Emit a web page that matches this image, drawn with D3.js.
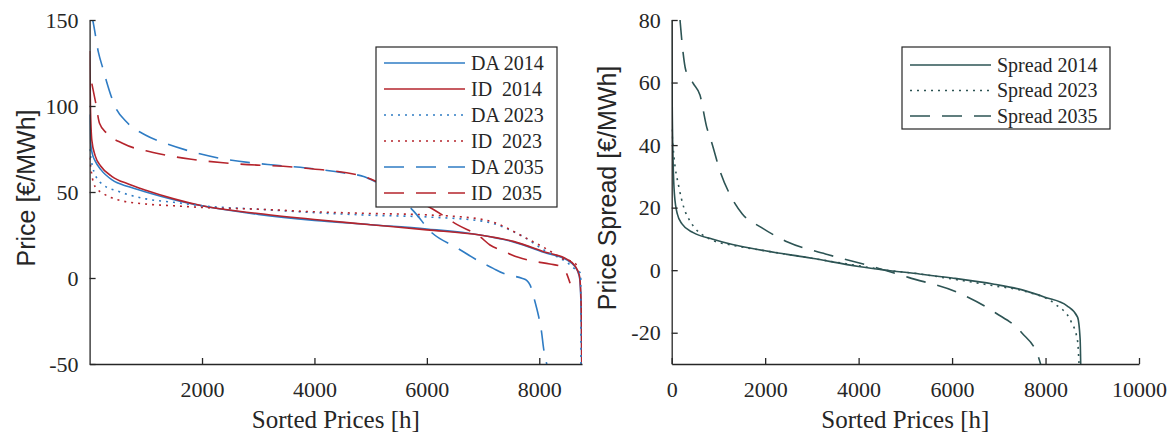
<!DOCTYPE html>
<html>
<head>
<meta charset="utf-8">
<script src="https://cdn.jsdelivr.net/npm/d3@7"></script>
<style>
  body { margin: 0; background: #fff; }
  text { fill: #262626; }
</style>
</head>
<body>
<svg id="chart" width="1172" height="434"></svg>
<script>
// price duration curves, [sorted hour, €/MWh]
var da2014 = [[0, 95], [20, 78], [50, 72], [100, 68], [200, 63], [400, 57], [700, 53], [1000, 50], [1500, 45.5],
    [2000, 42], [3000, 37], [4000, 33.5], [5000, 31], [6000, 28.5], [6945, 25], [7538, 21], [8132, 14.4],
    [8488, 10.5], [8636, 6.6], [8713, 0.8], [8737, -10], [8750, -30], [8755, -55]];
var id2014 = [[0, 132], [15, 100], [40, 80], [100, 71], [200, 65], [400, 59], [700, 54.5], [1000, 51], [1500, 46],
    [2000, 42], [3000, 37.5], [4000, 34], [5000, 31], [6000, 28], [6945, 25], [7538, 21.3], [8132, 14.8],
    [8488, 11], [8636, 7], [8713, 1.5], [8740, -10], [8752, -30], [8758, -55]];
var da2023 = [[0, 75], [50, 65], [100, 60], [250, 54], [500, 50.5], [1000, 46], [1500, 44], [2000, 42],
    [3000, 40], [4000, 38], [5000, 36.5], [6000, 35.5], [7000, 33], [7716, 24], [8132, 15.3], [8368, 11.5],
    [8516, 8.5], [8680, 4], [8737, 2.7], [8740, -20], [8742, -55]];
var id2023 = [[0, 70], [50, 58], [100, 53], [250, 49], [500, 45.5], [1000, 43], [1500, 42], [2000, 41],
    [3000, 40], [4000, 38.5], [5000, 37.5], [6000, 36.7], [7000, 34], [7835, 22], [8160, 16.3], [8396, 11.5],
    [8636, 8.5], [8700, 6]];
var da2035 = [[40, 152], [55, 150], [155, 131.5], [244, 121], [304, 114], [450, 100], [650, 91], [1000, 83],
    [1330, 78.5], [1810, 73.5], [2420, 69], [3170, 66], [3850, 64], [4530, 61], [4875, 59], [5080, 56],
    [5400, 50], [5760, 39], [6100, 26], [6510, 18], [6945, 9.5], [7180, 5.6], [7360, 2.7], [7690, -0.2],
    [7780, -1.5], [7835, -4], [7924, -13.8], [7983, -21.5], [8043, -32], [8073, -40], [8132, -50], [8150, -53]];
var id2035 = [[40, 113], [108, 102], [176, 90], [310, 84], [585, 78.3], [1130, 73], [1810, 69], [2490, 66.7],
    [3850, 63.8], [4875, 59], [5146, 55.5], [5760, 46], [6110, 40], [6540, 31], [6945, 24], [7123, 19.2],
    [7330, 16], [7626, 12], [7865, 10], [8190, 8.1], [8400, 6.6], [8480, 3], [8548, -3]];

// intraday minus day-ahead spread, [sorted hour, €/MWh]
var spread2014 = [[0, 80], [10, 55], [30, 35], [60, 24], [120, 18], [220, 14.8], [460, 12], [865, 10],
    [1300, 8.2], [2000, 6.2], [3000, 3.8], [4000, 1.2], [4600, 0], [5300, -1.2], [6000, -2.5], [6900, -4.5],
    [7500, -6.3], [8000, -8.7], [8460, -11.4], [8685, -15], [8740, -22], [8755, -32]];
var spread2023 = [[0, 45], [50, 36], [155, 26.5], [260, 20], [380, 16], [865, 9.6], [1300, 8], [2000, 6.2],
    [3000, 3.8], [4000, 1.4], [4600, 0], [5300, -1.2], [6000, -2.8], [6900, -5], [7570, -6.8], [8220, -11],
    [8540, -16.2], [8685, -22.6], [8722, -32]];
var spread2035 = [[178, 80], [240, 70], [300, 64], [462, 59.7], [605, 56], [745, 46], [862, 40.5], [1027, 32],
    [1270, 23.5], [1511, 18], [1915, 13.7], [2480, 9], [3290, 5.2], [4340, 1], [5065, -2.3], [6116, -7.1],
    [6925, -13.6], [7490, -20], [7853, -28], [7930, -32]];

var priceTicksX = [2000, 4000, 6000, 8000];
var priceTicksY = [-50, 0, 50, 100, 150];
var spreadTicksX = [0, 2000, 4000, 6000, 8000, 10000];
var spreadTicksY = [-20, 0, 20, 40, 60, 80];

var blue = "#2f7cc4", red = "#b5242c", teal = "#2d5454";
var dashStyle = "20,12", dotStyle = "2,5";

var priceSeries = [
    { name: "DA 2014", data: da2014, color: blue, dash: null },
    { name: "ID  2014", data: id2014, color: red, dash: null },
    { name: "DA 2023", data: da2023, color: blue, dash: dotStyle },
    { name: "ID  2023", data: id2023, color: red, dash: dotStyle },
    { name: "DA 2035", data: da2035, color: blue, dash: dashStyle },
    { name: "ID  2035", data: id2035, color: red, dash: dashStyle }
];
var spreadSeries = [
    { name: "Spread 2014", data: spread2014, color: teal, dash: null },
    { name: "Spread 2023", data: spread2023, color: teal, dash: dotStyle },
    { name: "Spread 2035", data: spread2035, color: teal, dash: dashStyle }
];

var svg = d3.select("#chart");
var serif = "'Liberation Serif', 'Times New Roman', serif";
var sans = "'Liberation Sans', Arial, sans-serif";
var plain = d => String(d); // hyphen minus, no thousands comma

function drawPanel(opt) {
    var x = d3.scaleLinear().domain(opt.xDomain).range([opt.left, opt.right]);
    var y = d3.scaleLinear().domain(opt.yDomain).range([opt.bottom, opt.top]);
    var g = svg.append("g");

    g.append("clipPath").attr("id", opt.id + "-clip")
        .append("rect")
        .attr("x", opt.left).attr("y", opt.top)
        .attr("width", opt.right - opt.left).attr("height", opt.bottom - opt.top);

    var line = d3.line()
        .x(d => x(d[0]))
        .y(d => y(d[1]))
        .curve(d3.curveMonotoneX);

    g.append("g").attr("clip-path", "url(#" + opt.id + "-clip)")
        .selectAll("path")
        .data(opt.series)
        .enter().append("path")
        .attr("d", d => line(d.data))
        .attr("fill", "none")
        .attr("stroke", d => d.color)
        .attr("stroke-width", 1.6)
        .attr("stroke-dasharray", d => d.dash);

    var xAxis = g.append("g")
        .attr("transform", "translate(0," + opt.bottom + ")")
        .call(d3.axisBottom(x).tickValues(opt.xTicks).tickFormat(plain)
            .tickSize(-6).tickSizeOuter(0).tickPadding(17));
    var yAxis = g.append("g")
        .attr("transform", "translate(" + opt.left + ",0)")
        .call(d3.axisLeft(y).tickValues(opt.yTicks).tickFormat(plain)
            .tickSize(-6).tickSizeOuter(0).tickPadding(11));

    [xAxis, yAxis].forEach(function (a) {
        a.attr("font-family", serif).attr("font-size", 22);
        a.select(".domain").attr("stroke", "#262626").attr("stroke-width", 1.3);
        a.selectAll(".tick line").attr("stroke", "#262626").attr("stroke-width", 1.3);
        a.selectAll(".tick text").attr("fill", "#262626");
    });

    g.append("text")
        .attr("x", (opt.left + opt.right) / 2).attr("y", 428)
        .attr("text-anchor", "middle")
        .style("font-family", serif).style("font-size", "25px")
        .text("Sorted Prices [h]");

    g.append("text")
        .attr("transform", "translate(" + opt.yLabelX + ",188) rotate(-90)")
        .attr("text-anchor", "middle")
        .style("font-family", sans).style("font-size", "25px")
        .text(opt.yLabel);

    // legend
    var lg = opt.legend;
    g.append("rect")
        .attr("x", lg.x).attr("y", lg.y).attr("width", lg.w).attr("height", lg.h)
        .attr("fill", "#fff").attr("stroke", "#262626").attr("stroke-width", 1.2);
    var rows = g.selectAll(".key").data(opt.series).enter().append("g")
        .attr("transform", (d, i) => "translate(0," + (lg.y + lg.first + i * lg.step) + ")");
    rows.append("line")
        .attr("x1", lg.x + 8).attr("x2", lg.x + 89)
        .attr("stroke", d => d.color).attr("stroke-width", 1.6)
        .attr("stroke-dasharray", d => d.dash);
    rows.append("text")
        .attr("x", lg.x + 95).attr("dy", "0.34em")
        .style("font-family", serif).style("font-size", "20px").style("white-space", "pre")
        .text(d => d.name);
}

drawPanel({
    id: "price", series: priceSeries,
    left: 89.6, right: 582, top: 20, bottom: 364,
    xDomain: [0, 8760], yDomain: [-50, 150],
    xTicks: priceTicksX, yTicks: priceTicksY,
    yLabel: "Price [€/MWh]", yLabelX: 35,
    legend: { x: 376, y: 47, w: 181, h: 160, first: 16, step: 26 }
});

drawPanel({
    id: "spread", series: spreadSeries,
    left: 671.7, right: 1139, top: 20, bottom: 364,
    xDomain: [0, 10000], yDomain: [-30, 80],
    xTicks: spreadTicksX, yTicks: spreadTicksY,
    yLabel: "Price Spread [€/MWh]", yLabelX: 616,
    legend: { x: 902, y: 47, w: 208, h: 82, first: 18, step: 25.5 }
});
</script>
</body>
</html>
